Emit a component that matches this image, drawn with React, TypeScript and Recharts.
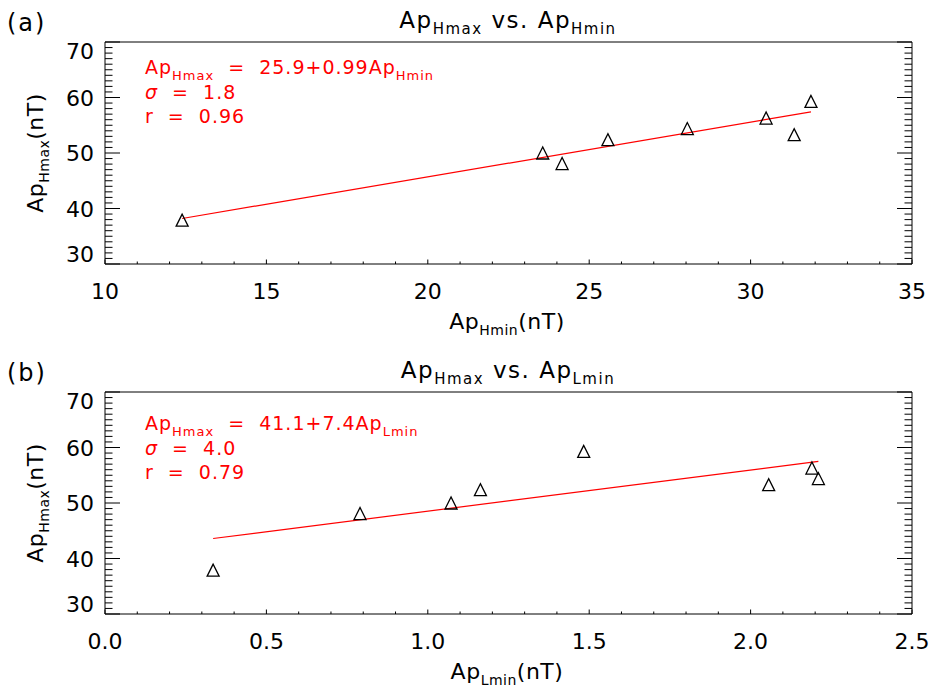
import React from "react";
import { ScatterChart, Scatter, XAxis, YAxis } from "recharts";

// panel (a): ApHmax vs ApHmin
const apHmin = [12.39, 23.56, 24.16, 25.58, 28.04, 30.48, 31.35, 31.87];
const apHmaxA = [37.9, 50.0, 48.1, 52.4, 54.4, 56.3, 53.3, 59.3];
// panel (b): ApHmax vs ApLmin
const apLmin = [0.335, 0.79, 1.072, 1.163, 1.483, 2.056, 2.19, 2.21];
const apHmaxB = [37.9, 48.1, 50.0, 52.4, 59.3, 53.3, 56.3, 54.4];

// fit line end points
const fitA = [
  { x: 12.39, y: 38.2 },
  { x: 31.87, y: 57.4 },
];
const fitB = [
  { x: 0.335, y: 43.6 },
  { x: 2.21, y: 57.5 },
];

const yMajor = [30, 40, 50, 60, 70];
const xMajorA = [10, 15, 20, 25, 30, 35];
const xMajorB = [0, 0.5, 1, 1.5, 2, 2.5];

const FONT = "DejaVu Sans";
const W = 931;

const range = (a: number, b: number, step: number) => {
  const out: number[] = [];
  const n = Math.round((b - a) / step);
  for (let i = 0; i <= n; i++) out.push(Math.round((a + i * step) * 1000) / 1000);
  return out;
};

const yTicks = range(30, 70, 1);
const xTicksA = range(10, 35, 1);
const xTicksB = range(0, 2.5, 0.1);

const isMajor = (v: number, majors: number[]) => majors.some((m) => Math.abs(m - v) < 1e-6);

const Triangle = (props: any) => {
  const { cx, cy } = props;
  if (cx == null || cy == null) return <g />;
  const r = 6;
  return (
    <polygon
      points={`${cx},${cy - r} ${cx - r},${cy + r} ${cx + r},${cy + r}`}
      fill="none"
      stroke="#000"
      strokeWidth={1.3}
    />
  );
};

function makeXTick(majors: number[], side: "bottom" | "top", fmt: (v: number) => string) {
  return (props: any) => {
    const { x, y, payload } = props;
    const major = isMajor(payload.value, majors);
    const len = major ? 4.5 : 2.5;
    const dir = side === "bottom" ? -1 : 1;
    return (
      <g>
        <line x1={x} y1={y} x2={x} y2={y + dir * len} stroke="#000" strokeWidth={1} />
        {side === "bottom" && major && (
          <text x={x} y={y + 35} textAnchor="middle" fontFamily={FONT} fontSize={22} fill="#000">
            {fmt(payload.value)}
          </text>
        )}
      </g>
    );
  };
}

function makeYTick(side: "left" | "right") {
  return (props: any) => {
    const { x, y, payload } = props;
    const v = payload.value;
    const major = isMajor(v, yMajor);
    const len = major ? 15 : 7.5;
    const dir = side === "left" ? 1 : -1;
    let shift = 0;
    if (v === 70) shift = 9;
    if (v === 30) shift = -10;
    return (
      <g>
        <line x1={x} y1={y} x2={x + dir * len} y2={y} stroke="#000" strokeWidth={1} />
        {side === "left" && major && (
          <text x={x - 11} y={y + shift + 8} textAnchor="end" fontFamily={FONT} fontSize={22} fill="#000">
            {v}
          </text>
        )}
      </g>
    );
  };
}

function Panel(props: {
  xs: number[];
  ys: number[];
  fit: { x: number; y: number }[];
  xDomain: [number, number];
  xTicks: number[];
  xMajor: number[];
  fmt: (v: number) => string;
  height: number;
  bottom: number;
}) {
  const data = props.xs.map((x, i) => ({ x, y: props.ys[i] }));
  const axisLine = { stroke: "#000", strokeWidth: 1 };
  return (
    <ScatterChart
      width={W}
      height={props.height}
      margin={{ top: 41, right: 18, bottom: props.bottom, left: 104 }}
    >
      <XAxis
        xAxisId="b"
        type="number"
        dataKey="x"
        orientation="bottom"
        domain={props.xDomain}
        allowDataOverflow
        ticks={props.xTicks}
        interval={0}
        height={1}
        tickSize={0}
        tickMargin={0}
        tickLine={false}
        axisLine={axisLine}
        tick={makeXTick(props.xMajor, "bottom", props.fmt)}
      />
      <XAxis
        xAxisId="t"
        type="number"
        orientation="top"
        domain={props.xDomain}
        allowDataOverflow
        ticks={props.xTicks}
        interval={0}
        height={1}
        tickSize={0}
        tickMargin={0}
        tickLine={false}
        axisLine={axisLine}
        tick={makeXTick(props.xMajor, "top", props.fmt)}
      />
      <YAxis
        yAxisId="l"
        type="number"
        dataKey="y"
        orientation="left"
        domain={[30, 70]}
        allowDataOverflow
        ticks={yTicks}
        interval={0}
        width={1}
        tickSize={0}
        tickMargin={0}
        tickLine={false}
        axisLine={axisLine}
        tick={makeYTick("left")}
      />
      <YAxis
        yAxisId="r"
        type="number"
        orientation="right"
        domain={[30, 70]}
        allowDataOverflow
        ticks={yTicks}
        interval={0}
        width={1}
        tickSize={0}
        tickMargin={0}
        tickLine={false}
        axisLine={axisLine}
        tick={makeYTick("right")}
      />
      <Scatter
        xAxisId="b"
        yAxisId="l"
        data={props.fit}
        line={{ stroke: "#ff0000", strokeWidth: 1.2 }}
        shape={() => <g />}
        isAnimationActive={false}
      />
      <Scatter
        xAxisId="b"
        yAxisId="l"
        data={data}
        shape={Triangle}
        isAnimationActive={false}
      />
    </ScatterChart>
  );
}

const Sub = ({ children, size, d }: { children: string; size: number; d: number }) => (
  <>
    <tspan fontSize={size} dy={d}>
      {children}
    </tspan>
    <tspan dy={-d}>{"\u200b"}</tspan>
  </>
);

function Texts({ off, panel, xSub, eq, sigma, r, annOff }: any) {
  const style = { whiteSpace: "pre" as const };
  return (
    <g fontFamily={FONT} fill="#000" style={style}>
      <text x={7} y={31 + off} fontSize={24} letterSpacing={2}>
        {panel}
      </text>
      <text x={508} y={28 + off} fontSize={23} textAnchor="middle" letterSpacing={1.5}>
        Ap
        <Sub size={15} d={6}>Hmax</Sub>
        {" vs. Ap"}
        <Sub size={15} d={6}>{xSub}</Sub>
      </text>
      <text x={507} y={329 + off} fontSize={22} textAnchor="middle" letterSpacing={0.5}>
        Ap
        <Sub size={14} d={6}>{xSub}</Sub>
        (nT)
      </text>
      <text
        transform={`translate(43,${153 + off}) rotate(-90)`}
        fontSize={22}
        textAnchor="middle"
        letterSpacing={0.5}
      >
        Ap
        <Sub size={14} d={6}>Hmax</Sub>
        (nT)
      </text>
      <g fill="#ff0000" fontSize={19} letterSpacing={1}>
        <text x={145} y={74 + annOff} wordSpacing={7}>
          Ap
          <Sub size={13} d={6}>Hmax</Sub>
          {" = " + eq + "Ap"}
          <Sub size={13} d={6}>{xSub}</Sub>
        </text>
        <text x={145} y={99 + annOff} wordSpacing={7}>
          <tspan fontStyle="italic">σ</tspan>
          {" = " + sigma}
        </text>
        <text x={145} y={123 + annOff} wordSpacing={7}>
          {"r = " + r}
        </text>
      </g>
    </g>
  );
}

export default function App() {
  return (
    <div
      style={{
        position: "absolute",
        left: 0,
        top: 0,
        width: W,
        height: 694,
        overflow: "hidden",
        background: "#fff",
      }}
    >
      <div style={{ position: "absolute", left: 0, top: 0 }}>
        <Panel
          xs={apHmin}
          ys={apHmaxA}
          fit={fitA}
          xDomain={[10, 35]}
          xTicks={xTicksA}
          xMajor={xMajorA}
          fmt={(v) => String(v)}
          height={347}
          bottom={82}
        />
      </div>
      <div style={{ position: "absolute", left: 0, top: 350 }}>
        <Panel
          xs={apLmin}
          ys={apHmaxB}
          fit={fitB}
          xDomain={[0, 2.5]}
          xTicks={xTicksB}
          xMajor={xMajorB}
          fmt={(v) => v.toFixed(1)}
          height={344}
          bottom={79}
        />
      </div>
      <svg
        width={W}
        height={694}
        style={{ position: "absolute", left: 0, top: 0, pointerEvents: "none" }}
      >
        <Texts off={0} annOff={0} panel="(a)" xSub="Hmin" eq="25.9+0.99" sigma="1.8" r="0.96" />
        <Texts off={350} annOff={356} panel="(b)" xSub="Lmin" eq="41.1+7.4" sigma="4.0" r="0.79" />
      </svg>
    </div>
  );
}
